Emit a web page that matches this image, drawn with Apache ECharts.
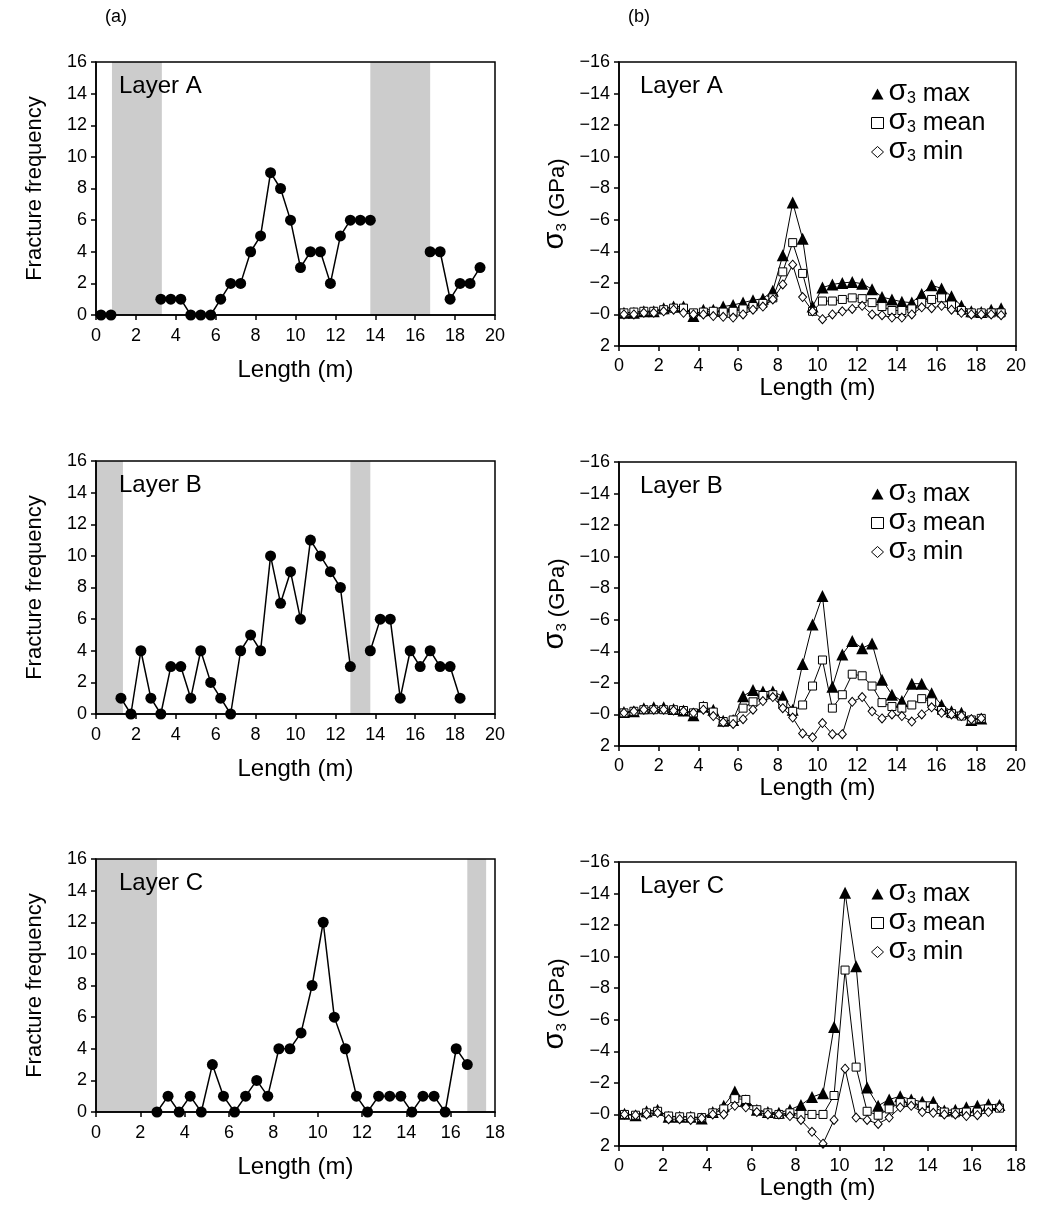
<!DOCTYPE html>
<html>
<head>
<meta charset="utf-8">
<script src="https://cdn.jsdelivr.net/npm/echarts@6/dist/echarts.min.js"></script>
<style>
html,body{margin:0;padding:0;background:#fff;}
#chart{width:1044px;height:1223px;}
</style>
</head>
<body>
<div id="chart"></div>
<script>
/* data: lengths (m) of sample points */
var lengthA = [0.25,0.75,1.25,1.75,2.25,2.75,3.25,3.75,4.25,4.75,5.25,5.75,6.25,6.75,7.25,7.75,8.25,8.75,9.25,9.75,10.25,10.75,11.25,11.75,12.25,12.75,13.25,13.75,14.25,14.75,15.25,15.75,16.25,16.75,17.25,17.75,18.25,18.75,19.25];
var lengthB = [0.25,0.75,1.25,1.75,2.25,2.75,3.25,3.75,4.25,4.75,5.25,5.75,6.25,6.75,7.25,7.75,8.25,8.75,9.25,9.75,10.25,10.75,11.25,11.75,12.25,12.75,13.25,13.75,14.25,14.75,15.25,15.75,16.25,16.75,17.25,17.75,18.25];
var lengthC = [0.25,0.75,1.25,1.75,2.25,2.75,3.25,3.75,4.25,4.75,5.25,5.75,6.25,6.75,7.25,7.75,8.25,8.75,9.25,9.75,10.25,10.75,11.25,11.75,12.25,12.75,13.25,13.75,14.25,14.75,15.25,15.75,16.25,16.75,17.25];

/* fracture frequency (null = no data, grey zone) */
var freqA = [0,0,null,null,null,null,1,1,1,0,0,0,1,2,2,4,5,9,8,6,3,4,4,2,5,6,6,6,null,null,null,null,null,4,4,1,2,2,3];
var freqB = [null,null,1,0,4,1,0,3,3,1,4,2,1,0,4,5,4,10,7,9,6,11,10,9,8,3,null,4,6,6,1,4,3,4,3,3,1];
var freqC = [null,null,null,null,null,0,1,0,1,0,3,1,0,1,2,1,4,4,5,8,12,6,4,1,0,1,1,1,0,1,1,0,4,3,null];

/* grey zones [from, to] */
var bandsA = [[0.8,3.3],[13.75,16.75]];
var bandsB = [[0,1.35],[12.75,13.75]];
var bandsC = [[0,2.75],[16.75,17.6]];

/* sigma3 (GPa) */
var maxA = [-0.1,-0.1,-0.2,-0.2,-0.4,-0.5,-0.5,0.1,-0.3,-0.3,-0.5,-0.6,-0.75,-0.9,-1.0,-1.5,-3.75,-7.1,-4.8,-0.5,-1.7,-1.9,-2.0,-2.05,-1.95,-1.6,-1.1,-0.95,-0.8,-0.75,-1.3,-1.85,-1.65,-1.15,-0.55,-0.2,-0.15,-0.3,-0.4];
var meanA = [-0.1,-0.15,-0.2,-0.2,-0.3,-0.4,-0.4,-0.1,-0.15,-0.2,-0.15,-0.2,-0.35,-0.5,-0.7,-1.05,-2.7,-4.55,-2.6,-0.2,-0.85,-0.85,-0.95,-1.05,-1.0,-0.75,-0.5,-0.25,-0.25,-0.35,-0.75,-0.95,-1.05,-0.6,-0.25,-0.1,-0.1,-0.1,-0.1];
var minA = [0,0,-0.1,-0.1,-0.2,-0.3,-0.1,0,0,0.1,0.15,0.2,0,-0.3,-0.5,-0.95,-1.9,-3.15,-1.1,-0.2,0.3,0,-0.2,-0.35,-0.55,0,0.05,0.2,0.2,0,-0.45,-0.4,-0.55,-0.3,-0.1,0,0,0,0.05];

var maxB = [-0.15,-0.2,-0.4,-0.45,-0.45,-0.35,-0.25,0.05,-0.5,-0.3,0.4,0.35,-1.15,-1.55,-1.45,-1.45,-1.15,-0.3,-3.2,-5.7,-7.5,-1.75,-3.8,-4.65,-4.2,-4.5,-2.2,-1.25,-0.85,-1.95,-1.95,-1.35,-0.6,-0.2,-0.1,0.35,0.25];
var meanB = [-0.1,-0.2,-0.3,-0.3,-0.3,-0.3,-0.25,-0.1,-0.5,-0.15,0.45,0.35,-0.4,-0.8,-1.2,-1.25,-0.65,-0.2,-0.6,-1.8,-3.45,-0.4,-1.25,-2.55,-2.45,-1.8,-0.75,-0.5,-0.4,-0.6,-1.0,-0.8,-0.25,-0.05,0.1,0.35,0.25];
var minB = [-0.1,-0.2,-0.3,-0.3,-0.3,-0.25,-0.2,-0.1,-0.3,0.1,0.5,0.6,0.3,-0.3,-0.85,-1.1,-0.4,0.2,1.2,1.45,0.55,1.25,1.25,-0.8,-1.1,-0.2,0.25,0,0.1,0.45,0,-0.45,-0.1,0,0.1,0.3,0.25];

var maxC = [-0.05,0.05,-0.2,-0.3,0.15,0.15,0.15,0.25,-0.15,-0.55,-1.45,-0.9,-0.3,-0.15,-0.1,-0.3,-0.6,-1.1,-1.35,-5.55,-14.05,-9.4,-1.7,-0.55,-0.95,-1.15,-0.95,-0.8,-0.8,-0.25,-0.3,-0.45,-0.55,-0.65,-0.6];
var meanC = [0,0.05,-0.1,-0.2,0.1,0.15,0.15,0.2,-0.1,-0.35,-1.0,-0.95,-0.3,-0.1,0,-0.1,0,0,0,-1.2,-9.15,-3.0,-0.2,0.05,-0.35,-0.75,-0.75,-0.55,-0.45,-0.15,-0.1,-0.15,-0.15,-0.35,-0.4];
var minC = [0,0.05,0,-0.1,0.3,0.3,0.35,0.25,0,0,-0.55,-0.45,-0.15,0,0,0.1,0.35,1.1,1.85,0.35,-2.9,0.2,0.35,0.6,0.2,-0.45,-0.55,-0.15,-0.1,0,0,0.1,0.05,-0.15,-0.45];

var layerNames = ['Layer A','Layer B','Layer C'];
var lengthMax = [20,20,18];

var panels = [
  {len:lengthA, freq:freqA, bands:bandsA, smax:maxA, smean:meanA, smin:minA},
  {len:lengthB, freq:freqB, bands:bandsB, smax:maxB, smean:meanB, smin:minB},
  {len:lengthC, freq:freqC, bands:bandsC, smax:maxC, smean:meanC, smin:minC}
];

/* layout */
var rowTopL = [62,461,859], rowTopR = [62,462,862];
var FONT = '"Liberation Sans", Arial, Helvetica, sans-serif';

function pairs(xs, ys){
  return xs.map(function(x,i){ return [x, ys[i]==null ? '-' : ys[i]]; });
}
function sigmaLabel(v){
  if (v < 0) return '\u2212' + (-v);
  if (v === 0) return '\u22120';
  return String(v);
}

var grids = [], xAxes = [], yAxes = [], series = [], legends = [], graphics = [];

var axisCommon = {
  z:10,
  axisLine:{onZero:false, lineStyle:{color:'#000', width:1.5}},
  axisTick:{length:5, lineStyle:{color:'#000', width:1.5}},
  splitLine:{show:false}
};

panels.forEach(function(p, i){
  var gL = grids.length;
  grids.push({left:96, top:rowTopL[i], width:399, height:253, show:true, z:10, borderColor:'#000', borderWidth:1.5});
  grids.push({left:619, top:rowTopR[i], width:397, height:284, show:true, z:10, borderColor:'#000', borderWidth:1.5});

  // left: fracture frequency
  xAxes.push(Object.assign({}, axisCommon, {
    gridIndex:gL, type:'value', min:0, max:lengthMax[i], interval:2,
    name:'Length (m)', nameLocation:'middle', nameGap:43,
    nameTextStyle:{fontSize:24, color:'#000', fontFamily:FONT},
    axisLabel:{color:'#000', fontSize:18, margin:12, fontFamily:FONT}
  }));
  yAxes.push(Object.assign({}, axisCommon, {
    gridIndex:gL, type:'value', min:0, max:16, interval:2,
    name:'Fracture frequency', nameLocation:'middle', nameGap:50,
    nameTextStyle:{fontSize:22, color:'#000', fontFamily:FONT},
    axisLabel:{color:'#000', fontSize:18, margin:9, fontFamily:FONT}
  }));
  // right: sigma3
  xAxes.push(Object.assign({}, axisCommon, {
    gridIndex:gL+1, type:'value', min:0, max:lengthMax[i], interval:2,
    name:'Length (m)', nameLocation:'middle', nameGap:27,
    nameTextStyle:{fontSize:24, color:'#000', fontFamily:FONT},
    axisLabel:{color:'#000', fontSize:18, margin:11, fontFamily:FONT}
  }));
  yAxes.push(Object.assign({}, axisCommon, {
    gridIndex:gL+1, type:'value', min:-16, max:2, interval:2, inverse:true,
    name:'{g|\u03c3}{s|3}{t| (GPa)}', nameLocation:'middle', nameGap:50,
    nameTextStyle:{color:'#000', fontFamily:FONT, fontSize:22,
      rich:{g:{fontSize:29, fontFamily:FONT, verticalAlign:'bottom'},
            s:{fontSize:15, fontFamily:FONT, verticalAlign:'bottom'},
            t:{fontSize:22, fontFamily:FONT, verticalAlign:'bottom'}}},
    axisLabel:{color:'#000', fontSize:18, margin:9, fontFamily:FONT, formatter:sigmaLabel}
  }));

  series.push({
    type:'line', name:'freq' + i, xAxisIndex:gL, yAxisIndex:gL,
    data:pairs(p.len, p.freq), connectNulls:false,
    symbol:'circle', symbolSize:11,
    itemStyle:{color:'#000'}, lineStyle:{color:'#000', width:1.5},
    markArea:{silent:true, itemStyle:{color:'#cccccc'},
      data:p.bands.map(function(b){ return [{xAxis:b[0]},{xAxis:b[1]}]; })}
  });
  series.push({
    type:'line', name:'max', xAxisIndex:gL+1, yAxisIndex:gL+1, z:2,
    data:pairs(p.len, p.smax), symbol:'triangle', symbolSize:12,
    itemStyle:{color:'#000'}, lineStyle:{color:'#000', width:1}
  });
  series.push({
    type:'line', name:'mean', xAxisIndex:gL+1, yAxisIndex:gL+1, z:3,
    data:pairs(p.len, p.smean), symbol:'rect', symbolSize:8,
    itemStyle:{color:'#fff', borderColor:'#000', borderWidth:1}, lineStyle:{color:'#000', width:1}
  });
  series.push({
    type:'line', name:'min', xAxisIndex:gL+1, yAxisIndex:gL+1, z:4,
    data:pairs(p.len, p.smin), symbol:'diamond', symbolSize:[8,9],
    itemStyle:{color:'#fff', borderColor:'#000', borderWidth:1}, lineStyle:{color:'#000', width:1}
  });

  legends.push({
    left:866, top:rowTopR[i] + 10, orient:'vertical', itemGap:-1,
    itemWidth:12, itemHeight:11, selectedMode:false,
    data:[
      {name:'max', icon:'triangle', itemStyle:{color:'#000', borderWidth:0}},
      {name:'mean', icon:'rect', itemStyle:{color:'#fff', borderColor:'#000', borderWidth:1}},
      {name:'min', icon:'diamond', itemStyle:{color:'#fff', borderColor:'#000', borderWidth:1}}
    ],
    formatter:function(n){ return '{g|\u03c3}{s|3}{t| ' + n + '}'; },
    textStyle:{color:'#000', fontFamily:FONT, fontSize:25, lineHeight:26,
      rich:{g:{fontSize:30, fontFamily:FONT, verticalAlign:'bottom', lineHeight:26},
            s:{fontSize:16, fontFamily:FONT, verticalAlign:'bottom', lineHeight:26},
            t:{fontSize:25, fontFamily:FONT, verticalAlign:'bottom', lineHeight:26}}}
  });

  graphics.push({type:'text', z:100, left:119, top:rowTopL[i] + 12,
    style:{text:layerNames[i], font:'24px ' + FONT, fill:'#000'}});
  graphics.push({type:'text', z:100, left:640, top:rowTopR[i] + 12,
    style:{text:layerNames[i], font:'24px ' + FONT, fill:'#000'}});
});

graphics.push({type:'text', left:105, top:8, style:{text:'(a)', font:'18px ' + FONT, fill:'#000'}});
graphics.push({type:'text', left:628, top:8, style:{text:'(b)', font:'18px ' + FONT, fill:'#000'}});

var chart = echarts.init(document.getElementById('chart'));
chart.setOption({
  animation:false,
  backgroundColor:'#fff',
  grid:grids,
  xAxis:xAxes,
  yAxis:yAxes,
  legend:legends,
  graphic:graphics,
  series:series
});
</script>
</body>
</html>
